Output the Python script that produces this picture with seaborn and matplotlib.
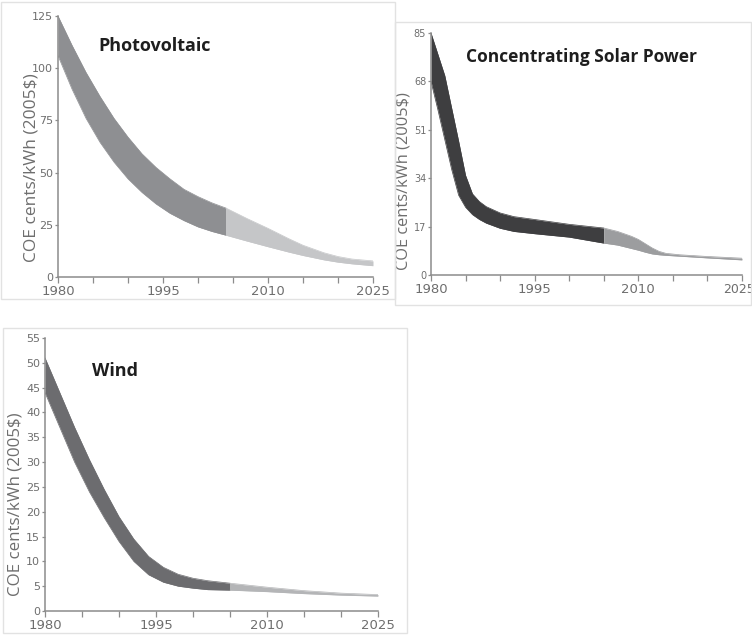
import numpy as np
import pandas as pd
import seaborn as sns
import matplotlib.pyplot as plt
from matplotlib.patches import Rectangle
from matplotlib.transforms import ScaledTranslation

# --- values (cents/kWh, 2005$) ---
pv_years = [1980, 1982, 1984, 1986, 1988, 1990, 1992, 1994, 1996, 1998, 2000, 2002, 2004,
            2007, 2010, 2013, 2015, 2018, 2020, 2022, 2025]
pv_upper = [125, 111, 98, 86.5, 76, 67, 59, 52.5, 47, 42, 38.5, 35.5, 33,
            28, 23.3, 18.3, 15.2, 11.6, 9.8, 8.6, 7.7]
pv_lower = [106, 90, 76, 64.5, 55, 47, 40.5, 35, 30.5, 27, 24, 21.8, 20,
            17.2, 14.5, 11.9, 10.3, 8.2, 7.1, 6.3, 5.4]
pv_split = 2004

csp_years = [1980, 1981, 1982, 1983, 1984, 1985, 1986, 1987, 1988, 1990, 1992, 1995, 2000, 2005,
             2007, 2009, 2010, 2011, 2012, 2013, 2014, 2016, 2020, 2025]
csp_upper = [85, 77.5, 70, 58.5, 47, 35, 28.5, 25.8, 24, 21.8, 20.5, 19.5, 17.8, 16.5,
             15.3, 13.6, 12.5, 11.0, 9.5, 8.3, 7.6, 7.1, 6.5, 5.9]
csp_lower = [68, 58, 47.5, 37, 28, 23.8, 21.2, 19.5, 18.2, 16.4, 15.3, 14.5, 13.3, 11.2,
             10.5, 9.3, 8.7, 8.0, 7.4, 7.1, 6.9, 6.6, 6.0, 5.3]
csp_split = 2005

wind_years = [1980, 1982, 1984, 1986, 1988, 1990, 1992, 1994, 1996, 1998, 2000, 2002, 2005,
              2010, 2015, 2020, 2025]
wind_upper = [51, 44, 37, 30.5, 24.5, 19, 14.5, 11, 8.8, 7.4, 6.6, 6.1, 5.6,
              4.8, 4.1, 3.6, 3.3]
wind_lower = [44, 37, 30, 24, 18.8, 14, 10, 7.3, 5.8, 5.0, 4.6, 4.3, 4.2,
              3.9, 3.5, 3.2, 3.0]
wind_split = 2005

x_ticks = [1980, 1985, 1990, 1995, 2000, 2005, 2010, 2015, 2020, 2025]
x_labels = ["1980", "", "", "1995", "", "", "2010", "", "", "2025"]

sns.set_theme(style="white")
plt.rcParams['font.family'] = ['Liberation Sans Narrow', 'DejaVu Sans']

W, H = 752, 635
fig = plt.figure(figsize=(W / 100, H / 100), dpi=100)
GRAY = "#8c8c8c"
LABEL = "#6e6e6e"


def add_ax(left, top, right, bottom):
    return fig.add_axes([left / W, 1 - bottom / H, (right - left) / W, (bottom - top) / H])


def frame(x0, y0, x1, y1):
    fig.add_artist(Rectangle((x0 / W, 1 - y1 / H), (x1 - x0) / W, (y1 - y0) / H,
                             transform=fig.transFigure, fill=False, ec="#e2e2e2", lw=1))


def band(ax, years, upper, lower, split, dark, light, ymax, yticks, ysize,
         title, tsize, tpos, lsize, lpos):
    df = pd.DataFrame({"year": years, "upper": upper, "lower": lower})
    yr = df["year"].to_numpy()
    ax.fill_between(df["year"], df["lower"], df["upper"], where=yr <= split,
                    color=dark, lw=0)
    ax.fill_between(df["year"], df["lower"], df["upper"], where=yr >= split,
                    color=light, lw=0)
    early = df[df["year"] <= split]
    late = df[df["year"] >= split]
    for part, c in ((early, dark), (late, light)):
        sns.lineplot(data=part, x="year", y="upper", ax=ax, color=c, lw=0.5)
        sns.lineplot(data=part, x="year", y="lower", ax=ax, color=c, lw=0.5)
    ax.set_xlim(1980, 2025)
    ax.set_ylim(0, ymax)
    ax.set_xticks(x_ticks)
    ax.set_xticklabels(x_labels, fontsize=9.5, color=LABEL)
    ax.set_yticks(yticks)
    ax.set_yticklabels([str(v) for v in yticks], fontsize=ysize, color=LABEL)
    ax.tick_params(axis="x", length=4, width=0.9, color=GRAY, pad=2, direction="out", bottom=True)
    ax.tick_params(axis="y", length=2.5, width=0.9, color=GRAY, pad=1, direction="out", left=True)
    sns.despine(ax=ax)
    for s in ("left", "bottom"):
        ax.spines[s].set_color(GRAY)
        ax.spines[s].set_linewidth(1.1)
    ax.set_facecolor("none")
    ax.set_xlabel("")
    ax.set_ylabel("COE cents/kWh (2005$)", fontsize=lsize, color=LABEL,
                  family=["Open Sans", "DejaVu Sans"])
    ax.yaxis.set_label_coords(*lpos)
    ax.text(tpos[0], tpos[1], title, transform=ax.transAxes, ha="center", va="center",
            fontsize=tsize, fontweight="bold", color="#1e1e1e", family=["Open Sans", "DejaVu Sans"])


frame(1, 2, 395, 299)
frame(395, 22, 751, 305)
frame(3, 328, 407, 633)

ax_pv = add_ax(58, 16, 373, 277)
band(ax_pv, pv_years, pv_upper, pv_lower, pv_split, "#8e8f92", "#c5c6c8",
     125, [0, 25, 50, 75, 100, 125], 8,
     "Photovoltaic", 13, (0.305, 0.885), 12.5, (-0.058, 0.42))

ax_csp = add_ax(431, 33, 742, 275)
band(ax_csp, csp_years, csp_upper, csp_lower, csp_split, "#3e3e40", "#9c9d9f",
     85, [0, 17, 34, 51, 68, 85], 7,
     "Concentrating Solar Power", 12.5, (0.485, 0.9), 11.8, (-0.062, 0.39))
# the last year label sits at the image edge; nudge it in a little
last = ax_csp.get_xticklabels()[-1]
last.set_fontsize(9)
last.set_transform(last.get_transform() + ScaledTranslation(-3 / 100, 0, fig.dpi_scale_trans))

ax_w = add_ax(45, 338, 378, 611)
band(ax_w, wind_years, wind_upper, wind_lower, wind_split, "#6c6c6f", "#b4b5b7",
     55, list(range(0, 56, 5)), 8,
     "Wind", 13, (0.21, 0.88), 12.2, (-0.066, 0.39))

fig.savefig("out.png", dpi=100)
